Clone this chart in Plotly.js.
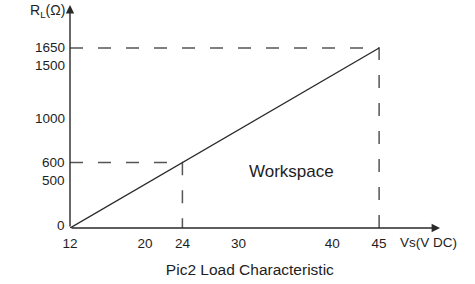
<!DOCTYPE html>
<html>
<head>
<meta charset="utf-8">
<script src="https://cdn.plot.ly/plotly-3.0.1.min.js"></script>
<style>
  html, body { margin: 0; padding: 0; background: #fff; }
  #chart { width: 475px; height: 284px; }
</style>
</head>
<body>
<div id="chart"></div>
<script>
// Load characteristic: supply voltage vs. load resistance
const supplyVoltage = [12, 24, 45];
const loadResistance = [0, 600, 1650];

// Axis tick values and labels
const xTickVals = [12, 20, 24, 30, 40, 45];
const xTickText = ['12', '20', '24', '30', '40', '45'];
const yTickVals = [0, 500, 600, 1000, 1500, 1650];
const yTickText = ['0', '500', '600', '1000', '1500', '1650'];

const FONT = 'Liberation Sans, Arial, sans-serif';
const TEXT = '#1e1e1e';
const lineColor = '#2a2a2a';
const guideColor = '#555';
const TICK_SIZE = 13.5;

const W = 475, H = 284;
const margin = { l: 70, r: 35, t: 5, b: 56 };
const yRange = [0, 2044];
const pxPerOhm = (H - margin.t - margin.b) / (yRange[1] - yRange[0]);

// Dashed guides from the marked operating points to both axes
function guide(i) {
  return {
    x: [supplyVoltage[0], supplyVoltage[i], supplyVoltage[i]],
    y: [loadResistance[i], loadResistance[i], loadResistance[0]],
    mode: 'lines',
    line: { color: guideColor, width: 1.5, dash: '13px,15px' },
    hoverinfo: 'skip',
    showlegend: false
  };
}

const traces = [
  guide(1),
  guide(2),
  {
    x: supplyVoltage,
    y: loadResistance,
    mode: 'lines',
    line: { color: lineColor, width: 1.4 },
    showlegend: false
  }
];

// Y tick labels: a label crowded by the one above it is nudged downwards
const minGap = 18;
const yLabels = yTickVals.map((v, i) => {
  let shift = 0;
  const above = yTickVals[i + 1];
  if (above !== undefined) {
    const gap = (above - v) * pxPerOhm;
    if (gap < minGap) shift = -(minGap - gap);
  }
  if (v === yRange[0]) shift = 3;
  return {
    xref: 'paper', yref: 'y', x: 0, y: v,
    xanchor: 'right', yanchor: 'middle', xshift: -3, yshift: shift,
    text: yTickText[i], showarrow: false,
    font: { family: FONT, size: TICK_SIZE, color: TEXT }
  };
});

const layout = {
  width: W,
  height: H,
  margin: margin,
  paper_bgcolor: '#fff',
  plot_bgcolor: '#fff',
  font: { family: FONT, size: TICK_SIZE, color: TEXT },
  showlegend: false,
  title: {
    text: 'Pic2 Load Characteristic',
    font: { family: FONT, size: 15.5, color: TEXT },
    x: 0.526, xanchor: 'center',
    yref: 'container', y: 0.05, yanchor: 'middle'
  },
  xaxis: {
    range: [12, 51.5],
    tickvals: xTickVals,
    ticktext: xTickText,
    ticks: '',
    ticklabelstandoff: 5,
    tickfont: { family: FONT, size: TICK_SIZE, color: TEXT },
    showgrid: false,
    zeroline: false,
    showline: false,
    fixedrange: true
  },
  yaxis: {
    range: yRange,
    tickvals: yTickVals,
    showticklabels: false,
    ticks: '',
    showgrid: false,
    zeroline: false,
    showline: false,
    fixedrange: true
  },
  annotations: [
    // x axis with arrow
    {
      xref: 'paper', yref: 'paper', x: 1, y: 0,
      ax: -370, ay: 0, text: '', showarrow: true,
      arrowhead: 2, arrowsize: 1.2, arrowwidth: 1.4, arrowcolor: lineColor
    },
    // y axis with arrow
    {
      xref: 'paper', yref: 'paper', x: 0, y: 1,
      ax: 0, ay: 223, text: '', showarrow: true,
      arrowhead: 2, arrowsize: 1.2, arrowwidth: 1.4, arrowcolor: lineColor
    },
    {
      xref: 'paper', yref: 'paper', x: -0.062, y: 1.0,
      xanchor: 'center', yanchor: 'top', yshift: 5,
      text: 'R<sub>L</sub>(Ω)', showarrow: false,
      font: { family: FONT, size: 14, color: TEXT }
    },
    {
      xref: 'paper', yref: 'paper', x: 0.968, y: 0,
      xanchor: 'center', yanchor: 'top', yshift: -5,
      text: 'Vs(V DC)', showarrow: false,
      font: { family: FONT, size: TICK_SIZE, color: TEXT }
    },
    {
      xref: 'x', yref: 'y', x: 35.6, y: 520,
      xanchor: 'center', yanchor: 'middle',
      text: 'Workspace', showarrow: false,
      font: { family: FONT, size: 17, color: TEXT }
    }
  ].concat(yLabels)
};

Plotly.newPlot('chart', traces, layout, { displayModeBar: false, staticPlot: true });
</script>
</body>
</html>
